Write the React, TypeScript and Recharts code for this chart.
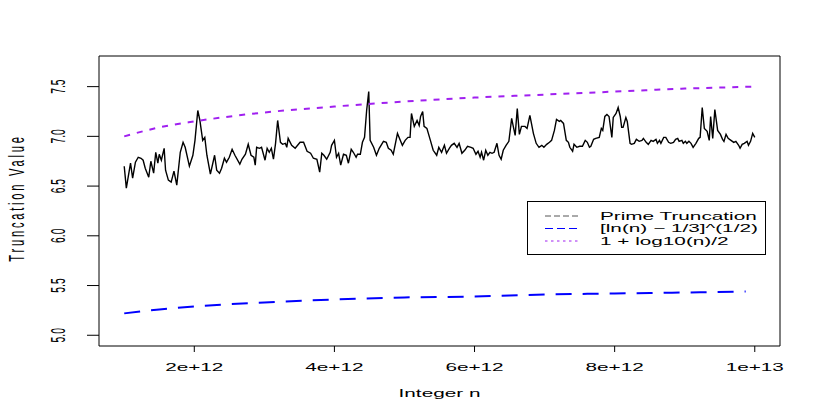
import { LineChart, Line, XAxis, YAxis, ReferenceArea } from 'recharts'

// n is in units of 1e12
const primeN = [
  1.0, 1.03, 1.09, 1.12, 1.16, 1.2, 1.24, 1.27, 1.3, 1.35, 1.38, 1.42, 1.45, 1.48, 1.5, 1.53, 1.57, 1.59, 1.63,
  1.67, 1.71, 1.75, 1.8, 1.84, 1.87, 1.93, 1.98, 2.01, 2.05, 2.08, 2.12, 2.15, 2.18, 2.23, 2.29, 2.32, 2.36,
  2.39, 2.43, 2.46, 2.5, 2.54, 2.58, 2.65, 2.68, 2.73, 2.77, 2.81, 2.85, 2.87, 2.89, 2.93, 2.96, 3.01, 3.04,
  3.07, 3.1, 3.13, 3.16, 3.19, 3.23, 3.26, 3.3, 3.32, 3.34, 3.39, 3.44, 3.51, 3.56, 3.61, 3.66, 3.7, 3.75,
  3.79, 3.82, 3.85, 3.89, 3.94, 3.96, 4.0, 4.03, 4.06, 4.09, 4.13, 4.17, 4.2, 4.24, 4.27, 4.31, 4.33, 4.37,
  4.4, 4.43, 4.46, 4.49, 4.51, 4.56, 4.6, 4.64, 4.7, 4.74, 4.77, 4.81, 4.84, 4.9, 4.94, 4.97, 5.01, 5.05,
  5.08, 5.1, 5.14, 5.18, 5.21, 5.23, 5.26, 5.28, 5.32, 5.37, 5.41, 5.46, 5.49, 5.53, 5.57, 5.6, 5.64, 5.67,
  5.71, 5.75, 5.78, 5.82, 5.86, 5.9, 5.95, 5.98, 6.02, 6.05, 6.08, 6.1, 6.13, 6.16, 6.19, 6.22, 6.25, 6.28,
  6.32, 6.35, 6.38, 6.41, 6.45, 6.49, 6.53, 6.55, 6.58, 6.61, 6.64, 6.67, 6.72, 6.75, 6.79, 6.84, 6.88,
  6.92, 6.96, 6.99, 7.03, 7.07, 7.1, 7.14, 7.17, 7.21, 7.23, 7.27, 7.31, 7.34, 7.36, 7.4, 7.42, 7.46, 7.5,
  7.54, 7.58, 7.61, 7.64, 7.66, 7.7, 7.73, 7.78, 7.81, 7.83, 7.86, 7.89, 7.92, 7.96, 7.98, 8.02, 8.05, 8.08,
  8.1, 8.12, 8.16, 8.18, 8.22, 8.24, 8.28, 8.31, 8.35, 8.39, 8.41, 8.45, 8.48, 8.52, 8.55, 8.59, 8.61, 8.64,
  8.66, 8.7, 8.73, 8.77, 8.8, 8.84, 8.87, 8.9, 8.92, 8.96, 8.98, 9.01, 9.03, 9.06, 9.09, 9.12, 9.16, 9.2,
  9.22, 9.25, 9.28, 9.32, 9.35, 9.37, 9.4, 9.43, 9.47, 9.51, 9.54, 9.56, 9.59, 9.62, 9.66, 9.7, 9.73, 9.77,
  9.79, 9.82, 9.85, 9.89, 9.91, 9.94, 9.97, 10.0,
]
const primeValue = [
  6.7, 6.48, 6.73, 6.58, 6.74, 6.79, 6.78, 6.76, 6.68, 6.59, 6.75, 6.63, 6.84, 6.73, 6.82, 6.76, 6.88, 6.66,
  6.56, 6.54, 6.65, 6.51, 6.84, 6.94, 6.89, 6.7, 6.81, 6.96, 7.26, 7.16, 6.96, 6.99, 6.81, 6.62, 6.81, 6.66,
  6.63, 6.68, 6.78, 6.74, 6.79, 6.87, 6.81, 6.72, 6.77, 6.82, 6.92, 6.81, 6.79, 6.71, 6.89, 6.88, 6.89, 6.76,
  6.88, 6.84, 6.88, 6.77, 6.93, 7.16, 6.94, 6.92, 6.93, 6.89, 6.98, 6.91, 6.88, 6.94, 6.94, 6.85, 6.83, 6.78,
  6.77, 6.64, 6.83, 6.81, 6.77, 6.84, 6.91, 6.96, 6.79, 6.83, 6.71, 6.82, 6.81, 6.73, 6.87, 6.84, 6.79, 6.82,
  6.82, 6.94, 6.99, 7.26, 7.45, 6.96, 6.89, 6.81, 6.88, 6.95, 6.94, 6.88, 6.86, 6.82, 7.03, 6.96, 6.91, 6.96,
  6.99, 6.99, 7.23, 7.1, 7.16, 7.11, 7.2, 7.25, 7.1, 7.08, 6.96, 6.86, 6.81, 6.89, 6.84, 6.91, 6.83, 6.88,
  6.91, 6.93, 6.89, 6.93, 6.83, 6.86, 6.9, 6.89, 6.88, 6.82, 6.85, 6.79, 6.84, 6.76, 6.86, 6.81, 6.84, 6.83,
  6.84, 6.93, 6.81, 6.77, 6.86, 6.91, 6.95, 7.18, 7.11, 7.01, 7.28, 7.02, 7.1, 7.1, 7.08, 7.21, 7.03, 6.93,
  6.89, 6.91, 6.89, 6.92, 6.94, 6.96, 7.06, 7.17, 7.15, 7.16, 7.13, 6.96, 6.94, 6.89, 6.85, 6.92, 6.89, 6.9,
  6.9, 6.96, 6.94, 6.89, 6.9, 6.97, 6.98, 6.99, 7.08, 7.06, 7.2, 7.22, 7.2, 6.99, 7.19, 7.23, 7.29, 7.2,
  7.09, 7.09, 7.19, 7.15, 6.93, 6.92, 6.93, 6.97, 6.95, 6.96, 6.98, 6.94, 6.92, 6.96, 6.95, 6.97, 6.93, 6.96,
  6.93, 6.99, 6.99, 6.94, 6.93, 6.94, 6.97, 6.98, 6.95, 6.96, 6.93, 6.95, 6.93, 6.95, 6.93, 6.89, 6.93, 6.98,
  6.99, 7.29, 7.08, 7.05, 6.96, 7.2, 6.98, 7.27, 7.06, 7.02, 6.97, 6.95, 7.02, 6.98, 6.96, 6.94, 6.95, 6.91,
  6.88, 6.92, 6.93, 6.95, 6.91, 6.95, 7.03, 6.99,
]

const floorN = [1, 1.5, 2, 3, 4, 5, 6, 7, 8, 9, 9.87]
const floorValue = [5.22, 5.26, 5.29, 5.33, 5.36, 5.38, 5.39, 5.41, 5.42, 5.43, 5.44]

const ceilingN = [1, 1.5, 2, 3, 4, 5, 6, 7, 8, 9, 10]
const ceilingValue = [7.0, 7.09, 7.15, 7.24, 7.3, 7.35, 7.39, 7.42, 7.45, 7.48, 7.5]

const xTicks = [2, 4, 6, 8, 10]
const xTickLabels = ['2e+12', '4e+12', '6e+12', '8e+12', '1e+13']
const yTicks = [5, 5.5, 6, 6.5, 7, 7.5]

const legendNames = ['Prime Truncation', '[ln(n) \u2212 1/3]^(1/2)', '1 + log10(n)/2']

const primeData = primeN.map((n, i) => ({ n, v: primeValue[i] }))
const floorData = floorN.map((n, i) => ({ n, v: floorValue[i] }))
const ceilingData = ceilingN.map((n, i) => ({ n, v: ceilingValue[i] }))

// the reference looks like an R plot stretched wide, so text gets the same stretch
const SX = 1.73
const SY = 0.86
const FONT = '"Liberation Sans", Arial, Helvetica, sans-serif'

const PLOT_LEFT = 99
const PLOT_TOP = 56
const PLOT_BOTTOM = 346
const PLOT_RIGHT = 780

function XTick(props: any) {
  const { x, payload } = props
  const idx = xTicks.indexOf(payload.value)
  return (
    <text
      transform={`translate(${x},${PLOT_BOTTOM + 21}) scale(${SX},${SY})`}
      textAnchor="middle"
      dominantBaseline="central"
      fontSize={12}
      fontFamily={FONT}
      fill="#000"
    >
      {xTickLabels[idx]}
    </text>
  )
}

function YTick(props: any) {
  const { y, payload } = props
  return (
    <text
      transform={`translate(${PLOT_LEFT - 42},${y}) scale(${SX},${SY}) rotate(-90)`}
      textAnchor="middle"
      dominantBaseline="central"
      fontSize={12}
      fontFamily={FONT}
      fill="#000"
    >
      {Number(payload.value).toFixed(1)}
    </text>
  )
}

function XTitle() {
  return (
    <text
      transform={`translate(${(PLOT_LEFT + PLOT_RIGHT) / 2},${PLOT_BOTTOM + 47}) scale(${SX},${SY})`}
      textAnchor="middle"
      dominantBaseline="central"
      fontSize={12}
      fontFamily={FONT}
      fill="#000"
    >
      Integer n
    </text>
  )
}

function YTitle() {
  return (
    <text
      transform={`translate(16,${(PLOT_TOP + PLOT_BOTTOM) / 2 - 3}) scale(${SX},${SY}) rotate(-90)`}
      textAnchor="middle"
      dominantBaseline="central"
      fontSize={13}
      letterSpacing={3.2}
      fontFamily={FONT}
      fill="#000"
    >
      Truncation Value
    </text>
  )
}

const legendStyles = [
  { stroke: '#555', dash: '6 3' },
  { stroke: '#0000ff', dash: '8 4' },
  { stroke: '#a020f0', dash: '2.5 3.5' },
]

function ChartLegend() {
  return (
    <svg width={240} height={55} style={{ position: 'absolute', left: 527, top: 201 }}>
      <rect x={0.5} y={0.5} width={238} height={53} fill="#fff" stroke="#000" />
      {legendNames.map((name, i) => {
        const y = 15 + i * 12.5
        return (
          <g key={name}>
            <line x1={18} x2={54} y1={y} y2={y} stroke={legendStyles[i].stroke} strokeDasharray={legendStyles[i].dash} />
            <text
              transform={`translate(73,${y}) scale(${SX},${SY})`}
              dominantBaseline="central"
              fontSize={12}
              fontFamily={FONT}
              fill="#000"
            >
              {name}
            </text>
          </g>
        )
      })}
    </svg>
  )
}

export default function App() {
  return (
    <div style={{ position: 'absolute', left: 0, top: 0, width: 830, height: 415, background: '#fff' }}>
      <LineChart width={830} height={415} margin={{ top: PLOT_TOP, right: 830 - PLOT_RIGHT, bottom: 0, left: 0 }}>
        <XAxis
          type="number"
          dataKey="n"
          domain={[0.64, 10.36]}
          allowDataOverflow
          ticks={xTicks}
          interval={0}
          height={415 - PLOT_BOTTOM}
          axisLine={false}
          stroke="#000"
          tickSize={6}
          tick={(p: any) => <XTick {...p} />}
          label={{ content: () => <XTitle /> }}
        />
        <YAxis
          type="number"
          dataKey="v"
          domain={[4.892, 7.808]}
          allowDataOverflow
          ticks={yTicks}
          interval={0}
          width={PLOT_LEFT}
          axisLine={false}
          stroke="#000"
          tickSize={12}
          tick={(p: any) => <YTick {...p} />}
          label={{ content: () => <YTitle /> }}
        />
        <ReferenceArea x1={0.64} x2={10.36} y1={4.892} y2={7.808} fill="none" stroke="#000" strokeWidth={1} fillOpacity={0} ifOverflow="visible" />
        <Line
          data={primeData}
          dataKey="v"
          type="linear"
          stroke="#000"
          strokeWidth={1.4}
          dot={false}
          activeDot={false}
          isAnimationActive={false}
        />
        <Line
          data={floorData}
          dataKey="v"
          type="monotone"
          stroke="#0000ff"
          strokeWidth={2}
          strokeDasharray="16 11"
          dot={false}
          activeDot={false}
          isAnimationActive={false}
        />
        <Line
          data={ceilingData}
          dataKey="v"
          type="monotone"
          stroke="#a020f0"
          strokeWidth={2}
          strokeDasharray="6 7"
          dot={false}
          activeDot={false}
          isAnimationActive={false}
        />
      </LineChart>
      <ChartLegend />
    </div>
  )
}
